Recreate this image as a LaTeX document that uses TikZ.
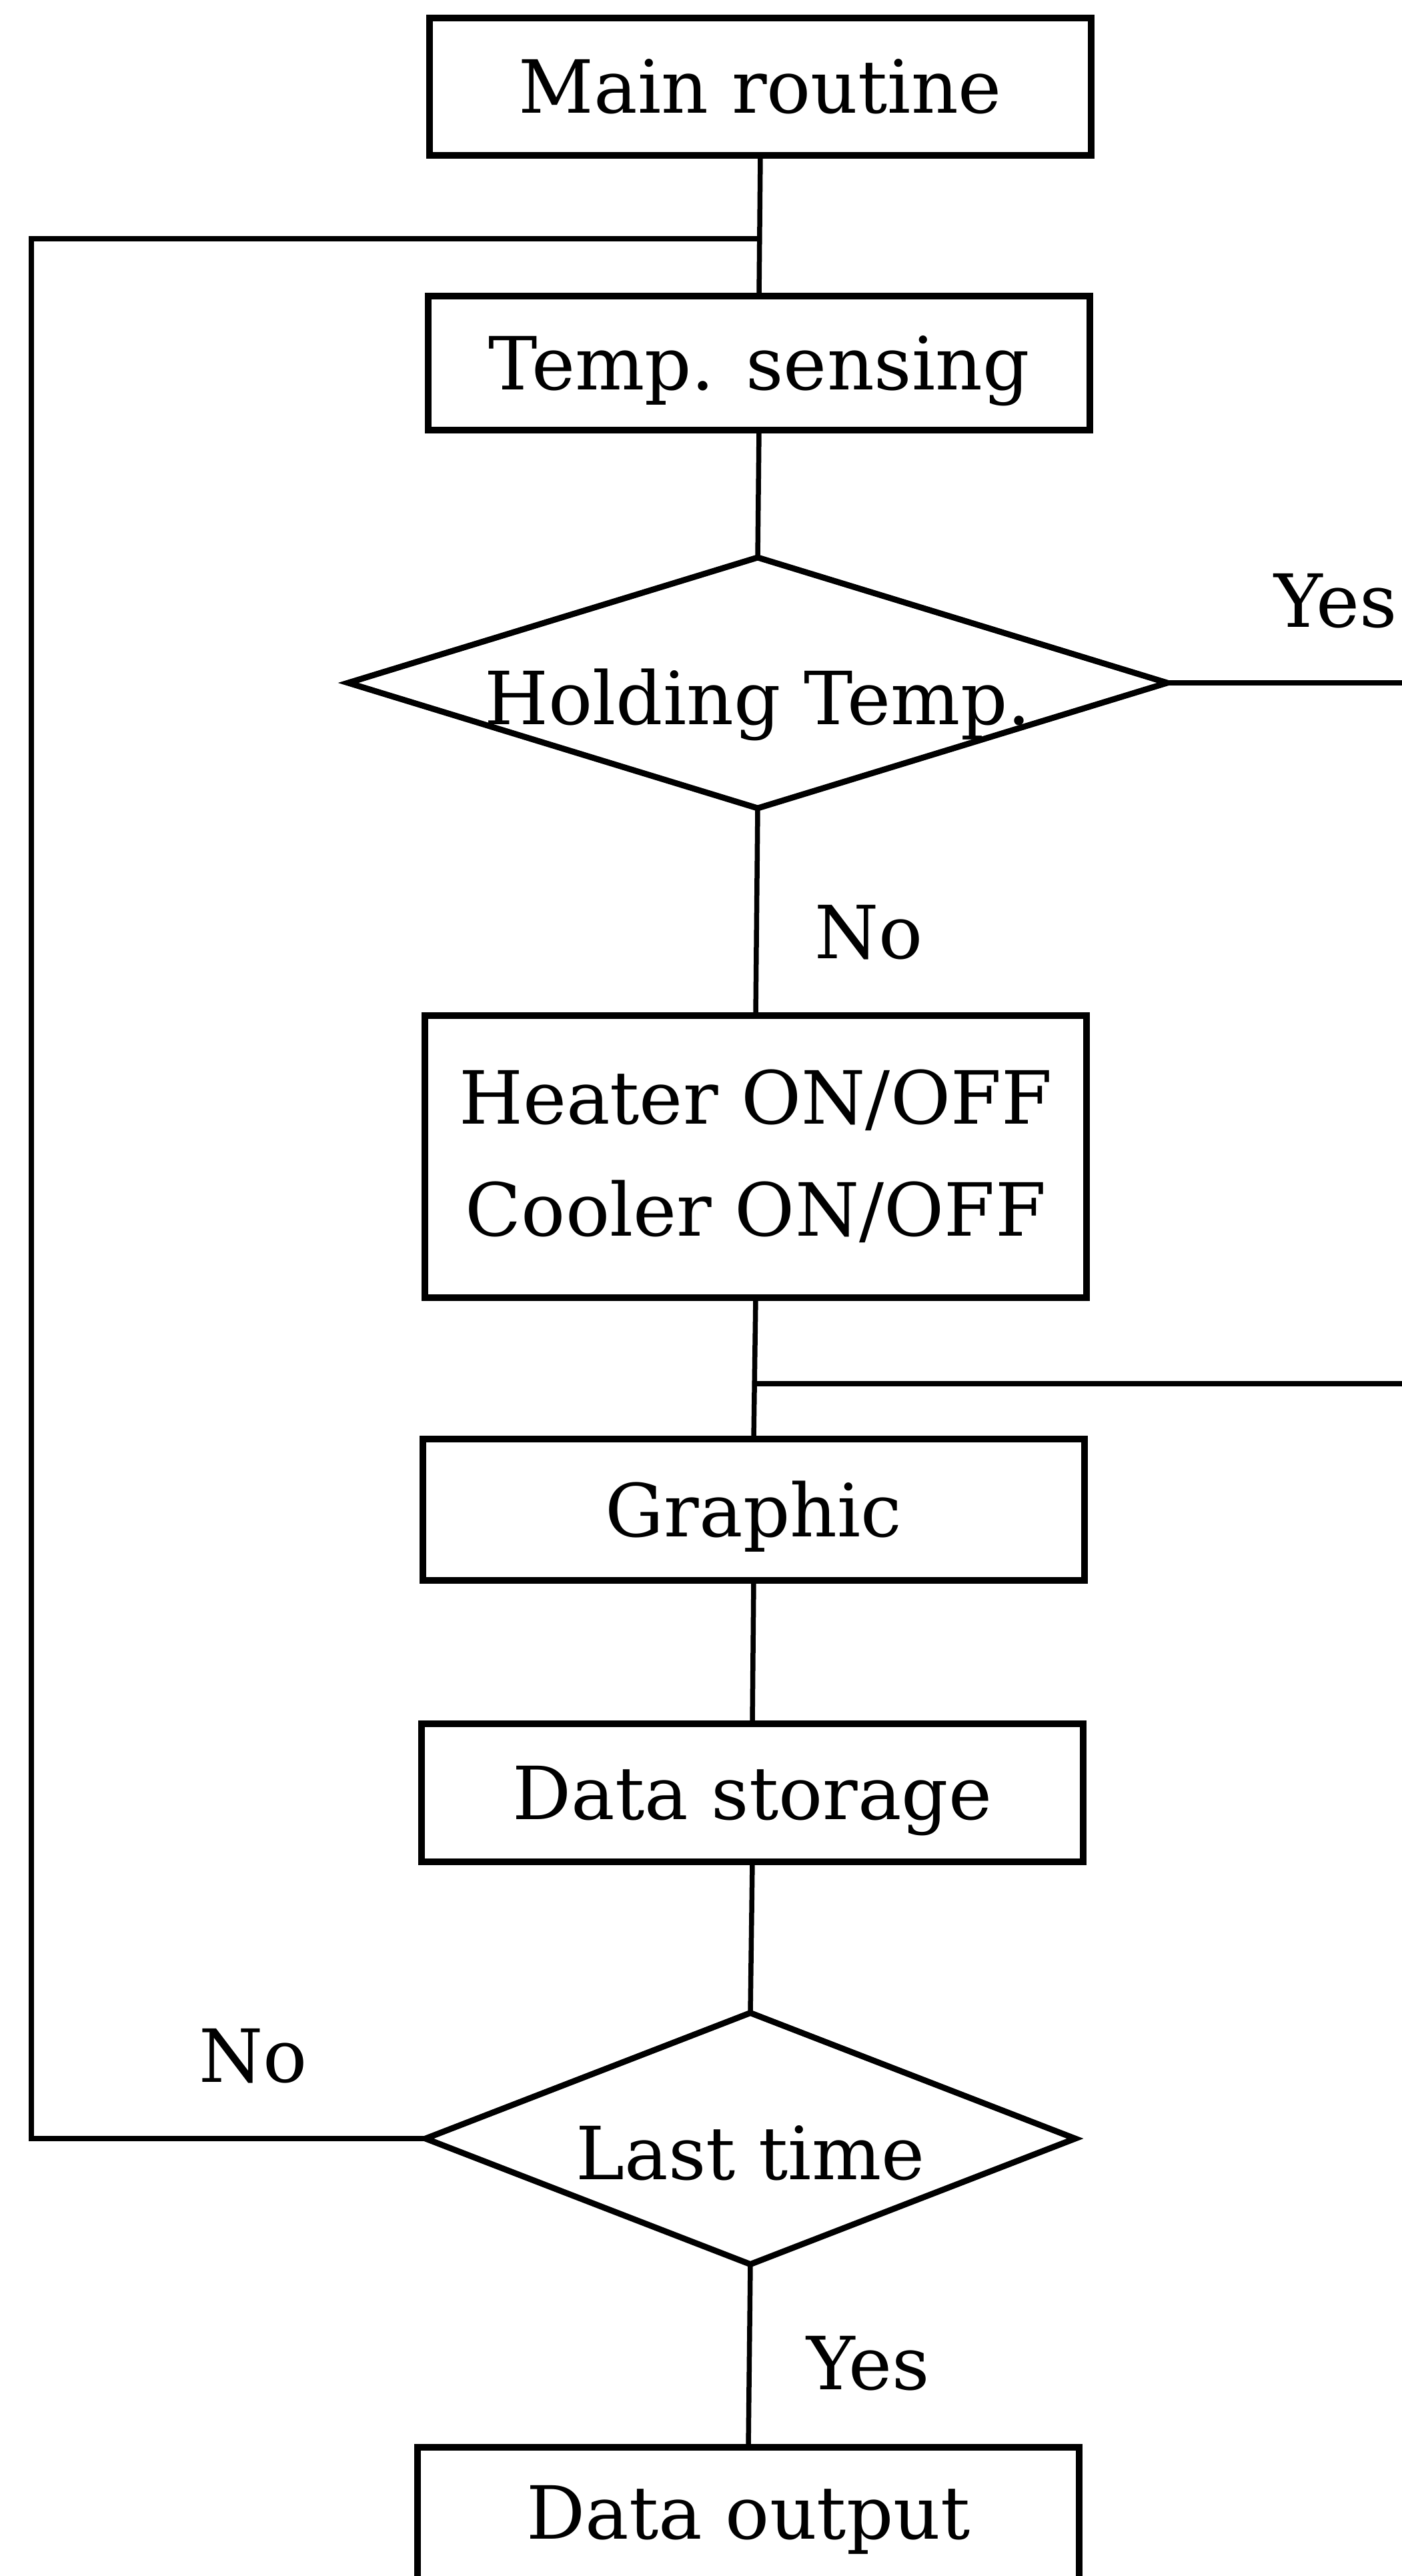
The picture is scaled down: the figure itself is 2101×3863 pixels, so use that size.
\documentclass[tikz,border=0pt]{standalone}
\usepackage{fontspec}
\setmainfont{DejaVu Serif}
\usetikzlibrary{shapes.geometric}

\begin{document}
\begin{tikzpicture}[x=0.1pt, y=-0.1pt,
  every node/.style={font=\fontsize{11}{16.8}\selectfont, inner sep=0pt, outer sep=0pt},
  stepbox/.style={draw, line width=1pt, rectangle, minimum width=99.2pt},
  oneline/.style={text height=8pt, text depth=0pt},
  decision/.style={draw, line width=0.9pt, diamond},
  flow/.style={line width=0.75pt},
  lbl/.style={anchor=base west}]
\useasboundingbox (0,0) rectangle (2101,3863);

% process boxes and decisions, top to bottom, on one column
\node[stepbox, oneline, minimum height=20.7pt] (main)  at (1140,130)  {Main routine};
\node[stepbox, oneline, minimum height=20.1pt] (sense) at (1138,544)  {Temp. sensing};
\node[decision, minimum width=122.8pt, minimum height=37.6pt,
      label={[oneline, yshift=-2.2pt]center:Holding Temp.}] (hold) at (1136,1024) {};
\node[stepbox, align=center, minimum height=42.3pt] (heat) at (1133,1734)
      {Heater ON/OFF\\Cooler ON/OFF};
\node[stepbox, oneline, minimum height=21.2pt] (graph) at (1130,2264) {Graphic};
\node[stepbox, oneline, minimum height=20.7pt] (store) at (1128,2688) {Data storage};
\node[decision, minimum width=97.4pt, minimum height=37.7pt,
      label={[oneline, yshift=-2.1pt]center:Last time}] (last) at (1125,3207) {};
\node[stepbox, minimum height=26pt,
      label={[oneline, yshift=3.3pt]center:Data output}] (out) at (1122,3800) {};

% branch labels
\node[lbl] (yesA) at (1910,940)  {Yes};
\node[lbl] (noA)  at (1221,1437) {No};
\node[lbl] (noB)  at (298,3122)  {No};
\node[lbl] (yesB) at (1209,3583) {Yes};

% junction points and open ends
\coordinate (lc) at (47,358);
\coordinate (j1) at (main.south |- lc);
\coordinate (yesend) at (2130,1024);
\coordinate (m2) at (2130,2075);
\coordinate (j2) at (heat.south |- m2);

% main flow
\draw[flow] (main.south)  -- (sense.north);
\draw[flow] (sense.south) -- (hold.north);
\draw[flow] (hold.south)  -- (heat.north);
\draw[flow] (heat.south)  -- (graph.north);
\draw[flow] (graph.south) -- (store.north);
\draw[flow] (store.south) -- (last.north);
\draw[flow] (last.south)  -- (out.north);

% loop back and side branches
\draw[flow] (last.west) -| (lc) -- (j1);
\draw[flow] (hold.east) -- (yesend);
\draw[flow] (j2) -- (m2);
\end{tikzpicture}
\end{document}
